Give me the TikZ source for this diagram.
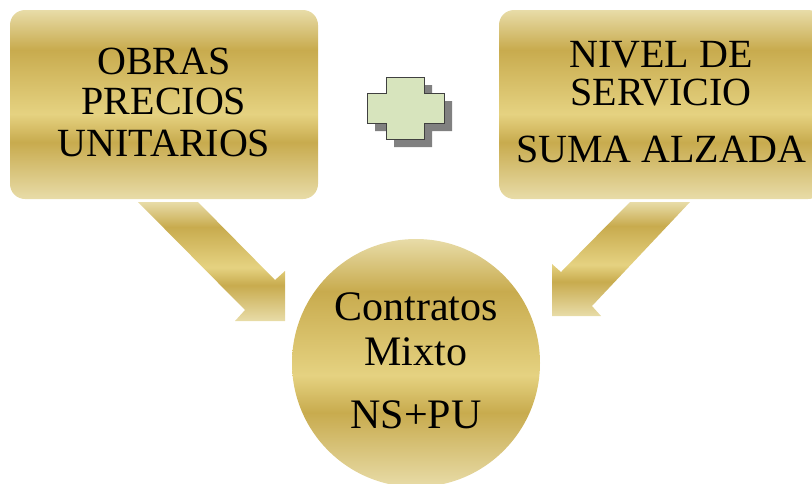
\documentclass[tikz,border=0pt]{standalone}
\usepackage{fontspec}
\setmainfont{Liberation Serif}
\definecolor{gCream}{HTML}{E8DCA8}
\definecolor{gDark}{HTML}{C8AB4E}
\definecolor{gLight}{HTML}{E5D281}
\definecolor{plusFill}{HTML}{D7E4BD}
\definecolor{plusEdge}{HTML}{404040}
\definecolor{plusShadow}{HTML}{808080}
\pgfdeclareverticalshading{gold}{100bp}{color(0bp)=(gCream); color(25bp)=(gCream); color(40bp)=(gDark); color(47.5bp)=(gLight); color(64.5bp)=(gDark); color(75bp)=(gCream); color(100bp)=(gCream)}
\tikzset{
  goldbox/.style={shading=gold, rounded corners=15pt, inner sep=0pt, minimum width=308pt, minimum height=189pt},
  goldcircle/.style={shading=gold, circle, inner sep=0pt, minimum size=248pt},
  goldarrow/.style={shading=gold},
  bigtext/.style={anchor=base, inner sep=0pt, font=\fontsize{40}{44}\selectfont},
  circtext/.style={anchor=base, inner sep=0pt, font=\fontsize{42}{46}\selectfont},
}
\begin{document}
\begin{tikzpicture}[x=1pt,y=-1pt]
\useasboundingbox (0,0) rectangle (812,483);
\clip (0,0) rectangle (812,483);
% boxes
\node[goldbox] (obras) at (164,104.5) {};
\node[goldbox, minimum width=324pt] (nivel) at (661,104.5) {};
% plus sign with shadow
\fill[plusShadow] (394,85) -- (432,85) -- (432,101) -- (452,101) -- (452,131) -- (432,131) -- (432,147) -- (394,147) -- (394,131) -- (375,131) -- (375,101) -- (394,101) -- cycle;
\filldraw[fill=plusFill, draw=plusEdge, line width=0.8pt] (386,77) -- (424,77) -- (424,93) -- (444,93) -- (444,123) -- (424,123) -- (424,139) -- (386,139) -- (386,123) -- (367,123) -- (367,93) -- (386,93) -- cycle;
% arrows
\shade[goldarrow] (138,202) -- (198,202) -- (275,280) -- (285,271) -- (285,321) -- (235,321) -- (245,310) -- cycle;
\shade[goldarrow] (690,202) -- (630,202) -- (561,272) -- (552,264) -- (552,316) -- (601,316) -- (592,306) -- cycle;
% circle
\node[goldcircle] (mixto) at (416,363) {};
% texts
\node[bigtext] (t1) at (164,74) {OBRAS};
\node[bigtext] (t2) at (164,114) {PRECIOS};
\node[bigtext] (t3) at (164,156) {UNITARIOS};
\node[bigtext] (t4) at (661,67) {NIVEL DE};
\node[bigtext] (t5) at (661,105) {SERVICIO};
\node[bigtext] (t6) at (661,162) {SUMA ALZADA};
\node[circtext] (t7) at (416,320) {Contratos};
\node[circtext] (t8) at (416,365) {Mixto};
\node[circtext] (t9) at (416,428) {NS+PU};
\end{tikzpicture}
\end{document}
